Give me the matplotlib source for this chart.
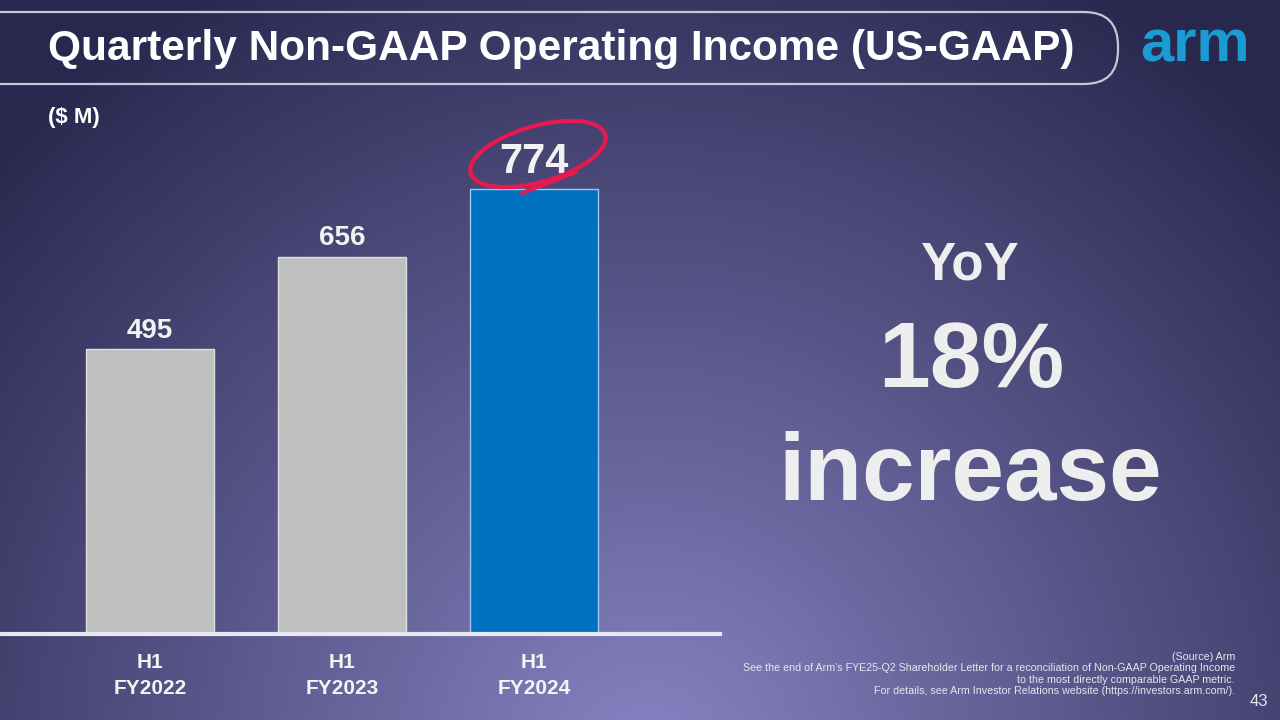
import numpy as np
import matplotlib.pyplot as plt
from matplotlib.patches import FancyBboxPatch, Arc
from matplotlib.colors import to_rgb

# data
categories = ["H1\nFY2022", "H1\nFY2023", "H1\nFY2024"]
values = [495, 656, 774]
bar_colors = ["#bfbfbf", "#bfbfbf", "#0070c0"]

plt.rcParams['font.family'] = ['Liberation Sans', 'DejaVu Sans']

fig = plt.figure(figsize=(12.8, 7.2), dpi=100)

# background: radial gradient (pixel coords)
bg = fig.add_axes([0, 0, 1, 1])
bg.set_xlim(0, 1280)
bg.set_ylim(720, 0)
bg.axis('off')
yy, xx = np.mgrid[0:720, 0:1280]
d = np.sqrt(((xx - 650) / 900.0) ** 2 + ((yy - 760) / 900.0) ** 2)
t = np.clip(d, 0, 1)[..., None]
c_in = np.array(to_rgb("#8884c4"))
c_out = np.array(to_rgb("#28284e"))
img = c_in * (1 - t) + c_out * t
bg.imshow(img, extent=(0, 1280, 720, 0), aspect='auto', zorder=0)

# title frame
frame = FancyBboxPatch((-40, 12), 1158, 72, boxstyle="round,pad=0,rounding_size=34",
                       fill=False, ec="#c6c6d6", lw=1.6, zorder=2)
bg.add_patch(frame)
bg.text(48, 49, "Quarterly Non-GAAP Operating Income (US-GAAP)", color="white",
        fontsize=30.5, fontweight="bold", va="center", ha="left", zorder=3)
bg.text(1195, 62, "arm", color="#1a9bd2", fontsize=43, fontweight="bold",
        va="baseline", ha="center", zorder=3)

bg.text(48, 117, "($ M)", color="white", fontsize=16, fontweight="bold",
        va="center", ha="left")

# right side
bg.text(969, 280, "YoY", color="#eeeeee", fontsize=38, fontweight="bold",
        va="baseline", ha="center")
bg.text(971, 387, "18%", color="#eeeeee", fontsize=67, fontweight="bold",
        va="baseline", ha="center")
bg.text(970, 500, "increase", color="#eeeeee", fontsize=68, fontweight="bold",
        va="baseline", ha="center")

# footnote
foot = ("(Source) Arm\n"
        "See the end of Arm\u2019s FYE25-Q2 Shareholder Letter for a reconciliation of Non-GAAP Operating Income\n"
        "to the most directly comparable GAAP metric.\n"
        "For details, see Arm Investor Relations website (https://investors.arm.com/).")
bg.text(1235, 652, foot, color="#e6e6f0", fontsize=7.65, ha="right", va="top",
        multialignment="right", linespacing=1.18)
bg.text(1268, 701, "43", color="#e6e6f0", fontsize=12, ha="right", va="center")

# bar chart
ax = fig.add_axes([0, 86 / 720, 720 / 1280, 534 / 720])
ax.patch.set_alpha(0)
x = np.arange(len(values))
bars = ax.bar(x, values, width=128 / 192, color=bar_colors,
              edgecolor=["#e0e0e0", "#e0e0e0", "#9dc8f0"], linewidth=1, zorder=2)
ax.set_xlim(-150 / 192, 570 / 192)
ax.set_ylim(0, 534 / 0.575)
for s in ["top", "right", "left"]:
    ax.spines[s].set_visible(False)
ax.spines["bottom"].set_color("#e8e8f0")
ax.spines["bottom"].set_linewidth(3)
ax.set_yticks([])
ax.set_xticks(x)
ax.set_xticklabels(categories, color="#f4f4f4", fontsize=15, fontweight="bold",
                   linespacing=1.45)
ax.tick_params(axis="x", length=0, pad=14)

for i, v in enumerate(values):
    big = i == len(values) - 1
    ax.annotate(str(v), (x[i], v), xytext=(0, 5 if big else 4), textcoords="offset points",
                ha="center", va="bottom", color="#f2f2f2", fontweight="bold",
                fontsize=30 if big else 20)

# red hand-drawn circle around the highlight (overlay in pixel coords)
ov = fig.add_axes([0, 0, 1, 1], zorder=5)
ov.set_xlim(0, 1280)
ov.set_ylim(720, 0)
ov.axis('off')
ov.patch.set_alpha(0)
ov.add_patch(Arc((538, 154), 140, 56, angle=-16, theta1=0, theta2=360,
                 color="#e8194f", lw=3))
ov.plot([522, 576], [193, 172], color="#e8194f", lw=3, solid_capstyle="round")

fig.savefig("out.png", dpi=100)
